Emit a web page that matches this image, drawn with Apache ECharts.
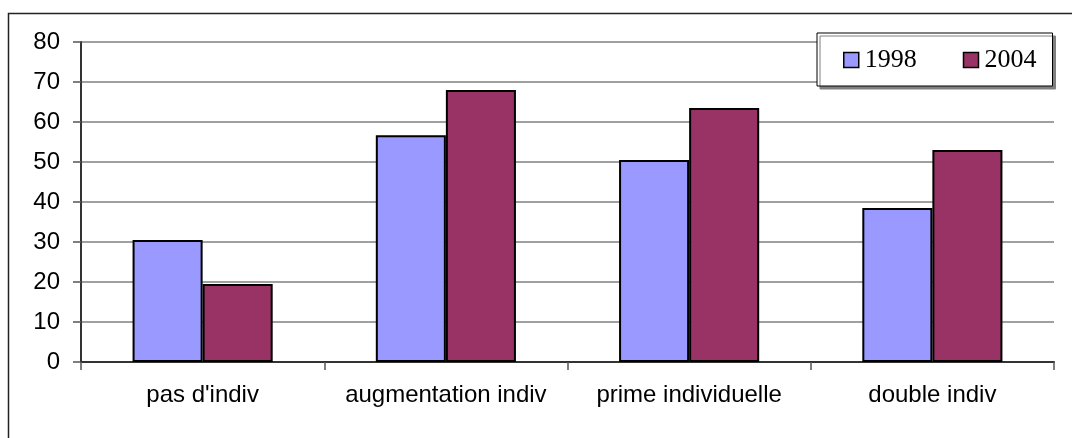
<!DOCTYPE html>
<html>
<head>
<meta charset="utf-8">
<script src="https://cdn.jsdelivr.net/npm/echarts@6/dist/echarts.min.js"></script>
<style>
  html, body { margin: 0; padding: 0; background: #fff; }
  #chart { width: 1072px; height: 438px; }
</style>
</head>
<body>
<div id="chart"></div>
<script>
// Categories and yearly values (percent)
const categories = ["pas d'indiv", "augmentation indiv", "prime individuelle", "double indiv"];
const values1998 = [30.5, 56.7, 50.5, 38.5];
const values2004 = [19.5, 68.0, 63.5, 53.0];
const seriesNames = ['1998', '2004'];

const chart = echarts.init(document.getElementById('chart'), null, { renderer: 'canvas' });

const barStyle = (color) => ({
  color: color,
  borderColor: '#000',
  borderWidth: 2
});

chart.setOption({
  animation: false,
  backgroundColor: '#fff',
  grid: { left: 81, right: 18, top: 42, bottom: 76, containLabel: false },
  legend: {
    left: 817,
    top: 33,
    orient: 'horizontal',
    data: seriesNames,
    backgroundColor: '#fff',
    borderColor: '#000',
    borderWidth: 1,
    shadowColor: '#808080',
    shadowOffsetX: 3,
    shadowOffsetY: 3,
    shadowBlur: 0,
    padding: [14, 16, 13, 26],
    itemGap: 46,
    itemWidth: 15,
    itemHeight: 15,
    icon: 'rect',
    itemStyle: { borderColor: '#000', borderWidth: 1.5 },
    textStyle: {
      fontFamily: 'Liberation Serif',
      fontSize: 26,
      color: '#000',
      padding: [0, 0, 0, 1]
    }
  },
  graphic: [{
    type: 'rect',
    silent: true,
    z: -10,
    shape: { x: 8.5, y: 13.5, width: 1200, height: 600 },
    style: { fill: 'none', stroke: '#222', lineWidth: 1.5 }
  }],
  xAxis: {
    type: 'category',
    data: categories,
    axisLine: { show: true, lineStyle: { color: '#333', width: 2 } },
    axisTick: { show: true, interval: 0, alignWithLabel: false, length: 8, lineStyle: { color: '#555', width: 1.5 } },
    axisLabel: {
      interval: 0,
      hideOverlap: false,
      margin: 21,
      fontFamily: 'Liberation Sans',
      fontSize: 24,
      color: '#000'
    },
    splitLine: { show: false }
  },
  yAxis: {
    type: 'value',
    min: 0,
    max: 80,
    interval: 10,
    axisLine: { show: true, lineStyle: { color: '#333', width: 2 } },
    axisTick: { show: true, length: 8, lineStyle: { color: '#555', width: 1.5 } },
    axisLabel: {
      margin: 21,
      fontFamily: 'Liberation Sans',
      fontSize: 24,
      color: '#000'
    },
    splitLine: { show: true, lineStyle: { color: '#808080', width: 1.5 } }
  },
  series: [
    {
      name: seriesNames[0],
      type: 'bar',
      data: values1998,
      barGap: '0%',
      barCategoryGap: '42.4%',
      itemStyle: barStyle('#9999FF')
    },
    {
      name: seriesNames[1],
      type: 'bar',
      data: values2004,
      barGap: '0%',
      barCategoryGap: '42.4%',
      itemStyle: barStyle('#993366')
    }
  ]
});
</script>
</body>
</html>
